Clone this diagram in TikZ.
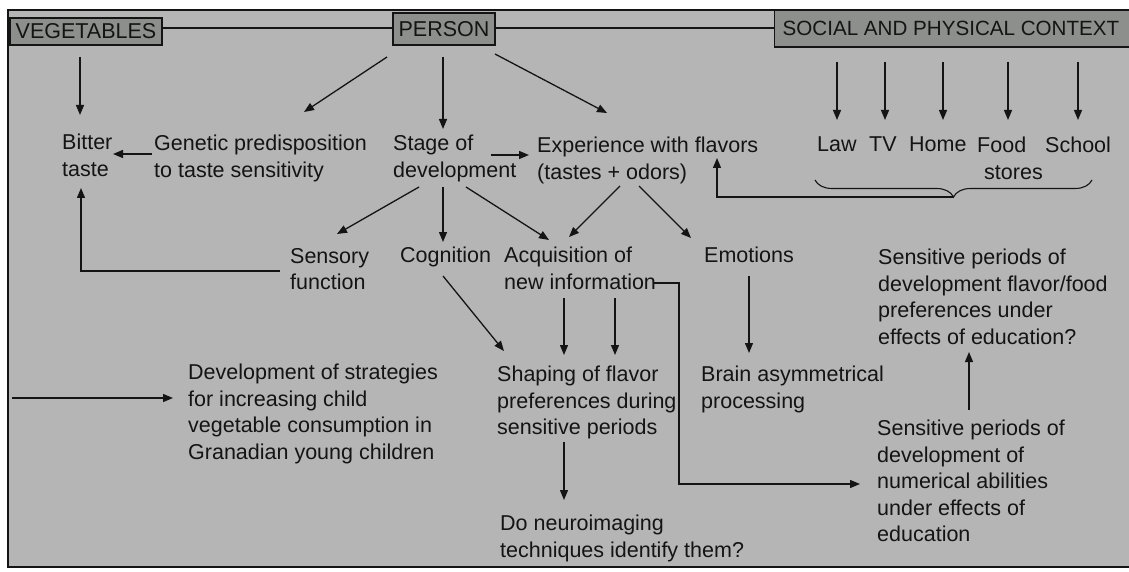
\documentclass[tikz,border=0pt]{standalone}
\usepackage{fontspec}
\setmainfont{Liberation Sans}
\usetikzlibrary{arrows.meta,decorations.pathreplacing}
\definecolor{bg}{RGB}{181,181,181}
\definecolor{boxfill}{RGB}{140,143,140}
\definecolor{ink}{RGB}{20,20,20}
\begin{document}
\begin{tikzpicture}[x=1pt,y=-1pt,
  txt/.style={font=\fontsize{21.5}{26.5}\selectfont, text=ink, inner sep=0pt, align=left, anchor=north west},
  hdr/.style={txt, draw=ink, line width=1.4pt, fill=boxfill, anchor=center, inner xsep=2pt},
  conn/.style={draw=ink, line width=1.3pt},
  arr/.style={conn, -{Triangle[length=10pt,width=8pt]}}]
\useasboundingbox (0,0) rectangle (1129,572);
\fill[bg] (8,10) rectangle (1129,567);
\draw[line width=1.5pt, ink] (1129,10) -- (8,10) -- (8,567) -- (1129,567);

% header boxes
\node[hdr, minimum width=152pt, minimum height=27pt] (veg) at (86,31.5) {VEGETABLES};
\node[hdr, minimum width=102pt, minimum height=32pt] (person) at (444,29) {PERSON};
\node[hdr, anchor=west, minimum height=37pt, inner xsep=8pt, font=\fontsize{20.6}{24}\selectfont] (social) at (774,28.5) {SOCIAL AND PHYSICAL CONTEXT\hspace*{12pt}};
\draw[conn] (veg.east |- 0,28) -- (person.west |- 0,28);
\draw[conn] (person.east |- 0,28) -- (social.west |- 0,28);

% text nodes
\node[txt] (bitter) at (62,134) {Bitter\\taste};
\node[txt] (genetic) at (154,135) {Genetic predisposition\\to taste sensitivity};
\node[txt] (stage) at (393,135) {Stage of\\development};
\node[txt] (exp) at (537,137) {Experience with flavors\\(tastes + odors)};
\node[txt] (law) at (817,137) {Law};
\node[txt] (tv) at (869,137) {TV};
\node[txt] (home) at (909,137) {Home};
\node[txt] (food) at (977,137) {Food\\\hspace*{7pt}stores};
\node[txt] (school) at (1045,137) {School};
\node[txt] (sensory) at (290,248) {Sensory\\function};
\node[txt] (cognition) at (400,247) {Cognition};
\node[txt] (acq) at (504,247) {Acquisition of\\new information};
\node[txt] (emotions) at (704,247) {Emotions};
\node[txt] (sens1) at (878,249) {Sensitive periods of\\development flavor/food\\preferences under\\effects of education?};
\node[txt] (strat) at (188,364) {Development of strategies\\for increasing child\\vegetable consumption in\\Granadian young children};
\node[txt] (shaping) at (497,366) {Shaping of flavor\\preferences during\\sensitive periods};
\node[txt] (brain) at (701,366) {Brain asymmetrical\\processing};
\node[txt] (sens2) at (877,420) {Sensitive periods of\\development of\\numerical abilities\\under effects of\\education};
\node[txt] (neuro) at (500,515) {Do neuroimaging\\techniques identify them?};

% connectors
\coordinate (vegS) at (80,57);
\draw[arr] (vegS) -- (80,115);
\draw[arr] (387,57) -- (304,112);
\draw[arr] (443,57) -- (443,129);
\draw[arr] (495,54) -- (607,113);
\draw[arr] (152,154) -- (113,154);
\draw[arr] (491,155) -- (529,155);
\foreach \x/\n in {837/law,885/tv,943/home,1008/food,1078/school}
  \draw[arr] (\x,62) -- (\x,120);
\draw[conn, line width=1.1pt, decorate, decoration={brace, mirror, amplitude=17pt, aspect=0.5}] (815,180) -- (1092,180);
\coordinate (bracetip) at (954,197);
\draw[arr] (bracetip) -- (717,197) -- (717,158);
\draw[arr] (419,187) -- (337,234);
\draw[arr] (443,187) -- (443,242);
\draw[arr] (466,187) -- (549,240);
\draw[arr] (620,186) -- (569,237);
\draw[arr] (639,186) -- (691,238);
\draw[arr] (280,271) -- (81,271) -- (81,188);
\draw[arr] (443,276) -- (504,351);
\draw[arr] (564,298) -- (564,355);
\draw[arr] (615,298) -- (615,355);
\draw[arr] (653,283) -- (679,283) -- (679,484) -- (860,484);
\draw[arr] (564,442) -- (564,500);
\draw[arr] (749,276) -- (749,353);
\draw[arr] (969,410) -- (969,352);
\coordinate (leftin) at (12,398);
\draw[arr] (leftin) -- (173,398);
\end{tikzpicture}
\end{document}
